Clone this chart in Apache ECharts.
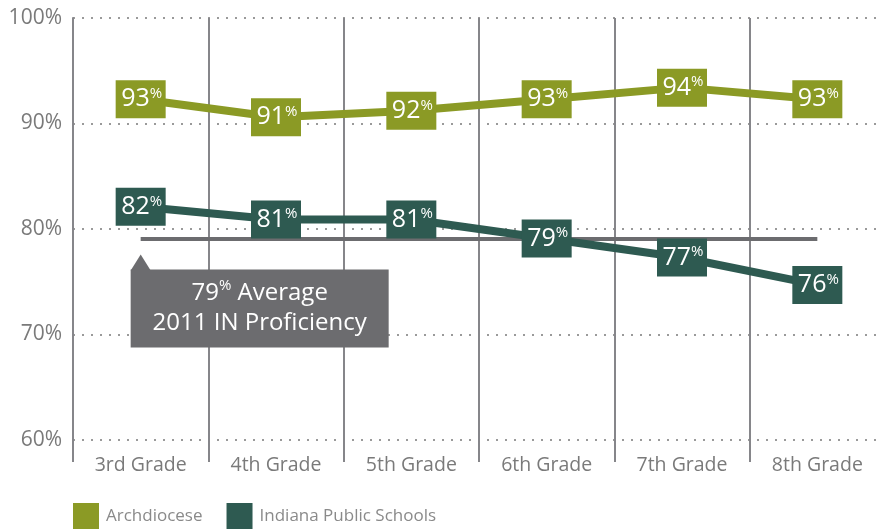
<!DOCTYPE html>
<html>
<head>
<meta charset="utf-8">
<script src="https://cdn.jsdelivr.net/npm/echarts@6/dist/echarts.min.js"></script>
<style>
    html, body { margin: 0; padding: 0; background: #ffffff; overflow: hidden; }
    /* plot runs a few px past the right edge, as in the original */
    #chart { width: 886px; height: 529px; }
</style>
</head>
<body>
<div id="chart"></div>
<script>
    // grades on the x axis
    var grades = ['3rd Grade', '4th Grade', '5th Grade', '6th Grade', '7th Grade', '8th Grade'];
    // plotted positions
    var archValues = [92.3, 90.6, 91.2, 92.3, 93.4, 92.3];
    var ipsValues = [82.1, 80.9, 80.9, 79.1, 77.3, 74.7];
    // printed labels
    var archLabels = ['93', '91', '92', '93', '94', '93'];
    var ipsLabels = ['82', '81', '81', '79', '77', '76'];
    var avgValue = 79.1;
    var yTicks = [60, 70, 80, 90, 100];

    var green = '#8b9a25';
    var teal = '#2e5a51';
    var grey = '#6c6c6f';
    var font = 'Open Sans';

    // value box: the symbol is the coloured rect, the label sits inside it
    function pctLabel(labels) {
        return {
            show: true,
            position: 'inside',
            offset: [1, 0],
            formatter: function (p) {
                return '{v|' + labels[p.dataIndex] + '}{p|%}';
            },
            rich: {
                v: { color: '#ffffff', fontSize: 25, fontFamily: font, lineHeight: 26, verticalAlign: 'middle' },
                p: { color: '#ffffff', fontSize: 15, fontFamily: font, lineHeight: 15, verticalAlign: 'top', padding: [0, 0, 6, 0] }
            }
        };
    }

    var myChart = echarts.init(document.getElementById('chart'));

    myChart.setOption({
        animation: false,
        grid: { left: 73, top: 18, bottom: 89, right: 1 },
        legend: {
            left: 73,
            top: 503,
            padding: 0,
            itemWidth: 26,
            itemHeight: 26,
            itemGap: 24,
            icon: 'rect',
            textStyle: { color: '#8a8a8a', fontSize: 17, fontFamily: font, padding: [0, 0, 0, 2] },
            data: ['Archdiocese', 'Indiana Public Schools']
        },
        xAxis: {
            type: 'category',
            data: grades,
            boundaryGap: true,
            axisLine: { show: false },
            axisTick: { show: true, length: 22, lineStyle: { color: '#86868a', width: 2 } },
            splitLine: { show: true, lineStyle: { color: '#86868a', width: 2 } },
            axisLabel: { color: '#7a7a7a', fontSize: 19.5, fontFamily: font, margin: 15 }
        },
        yAxis: {
            type: 'value',
            min: yTicks[0],
            max: yTicks[yTicks.length - 1],
            interval: 10,
            axisLine: { show: true, lineStyle: { color: '#86868a', width: 2 } },
            axisTick: { show: false },
            splitLine: { lineStyle: { color: '#9a9a9a', width: 2, type: [2, 7] } },
            axisLabel: { color: '#7a7a7a', fontSize: 21, fontFamily: font, margin: 11, formatter: '{value}%' }
        },
        series: [
            {
                name: 'Archdiocese',
                type: 'line',
                data: archValues,
                color: green,
                symbol: 'rect',
                symbolSize: [50, 38],
                itemStyle: { color: green },
                lineStyle: { width: 8, color: green },
                label: pctLabel(archLabels),
                z: 3
            },
            {
                name: 'Indiana Public Schools',
                type: 'line',
                data: ipsValues,
                color: teal,
                symbol: 'rect',
                symbolSize: [50, 38],
                itemStyle: { color: teal },
                lineStyle: { width: 8, color: teal },
                label: pctLabel(ipsLabels),
                z: 2,
                markLine: {
                    silent: true,
                    symbol: 'none',
                    z: 1,
                    label: { show: false },
                    lineStyle: { color: grey, width: 4, type: 'solid' },
                    data: [[{ coord: [grades[0], avgValue] }, { coord: [grades[grades.length - 1], avgValue] }]]
                }
            }
        ]
    });

    // callout box hung under the start of the average line
    var pt = myChart.convertToPixel({ gridIndex: 0 }, [grades[0], avgValue]);
    var bx = pt[0] - 10, by = pt[1] + 31;
    myChart.setOption({
        graphic: [
            {
                type: 'polygon',
                shape: { points: [[bx, by + 1], [bx + 10, by - 15], [bx + 20, by + 1]] },
                style: { fill: grey }
            },
            {
                type: 'rect',
                shape: { x: bx, y: by, width: 258, height: 78 },
                style: { fill: grey }
            },
            {
                type: 'text',
                x: bx + 129,
                y: by + 39,
                style: {
                    text: '{v|79}{p|%}{v| Average}\n{v|2011 IN Proficiency}',
                    align: 'center',
                    verticalAlign: 'middle',
                    rich: {
                        v: { fill: '#ffffff', fontSize: 24, fontFamily: font, lineHeight: 30, verticalAlign: 'middle' },
                        p: { fill: '#ffffff', fontSize: 15, fontFamily: font, lineHeight: 15, verticalAlign: 'top' }
                    }
                }
            }
        ]
    });
</script>
</body>
</html>
